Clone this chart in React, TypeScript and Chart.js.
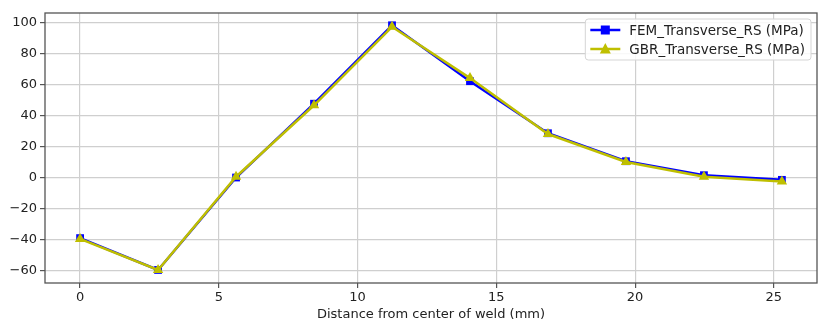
import React, { useEffect, useRef } from "react";
import { Chart, registerables } from "chart.js";

Chart.register(...registerables);

const distances = [0, 2.81, 5.62, 8.43, 11.24, 14.05, 16.86, 19.67, 22.48, 25.29];
const femValues = [-39, -59.5, 0, 47.5, 98, 62, 28.5, 10.5, 1.5, -1.5];
const gbrValues = [-39.5, -59.5, 0.5, 46.5, 97, 64, 28, 10, 0.5, -2.5];
const xTicks = [0, 5, 10, 15, 20, 25];
const yTicks = [-60, -40, -20, 0, 20, 40, 60, 80, 100];
const seriesNames = ["FEM_Transverse_RS (MPa)", "GBR_Transverse_RS (MPa)"];
const xTitle = "Distance from center of weld (mm)";

const FONT = "'DejaVu Sans', sans-serif";
const BLUE = "#0000ff";
const OLIVE = "#bfbf00";

const frameAndLegend = {
  id: "frameAndLegend",
  afterDraw(chart: any) {
    const { ctx, chartArea } = chart;
    ctx.save();
    ctx.strokeStyle = "#555";
    ctx.lineWidth = 1.3;
    ctx.strokeRect(chartArea.left, chartArea.top, chartArea.right - chartArea.left, chartArea.bottom - chartArea.top);

    // legend
    const fs = 13.5;
    ctx.font = `${fs}px ${FONT}`;
    const tw = Math.max(...seriesNames.map((s) => ctx.measureText(s).width));
    const right = chartArea.right - 6;
    const top = chartArea.top + 6;
    const h = 41;
    const w = tw + 50;
    const left = right - w;
    ctx.fillStyle = "rgba(255,255,255,0.85)";
    ctx.strokeStyle = "#d5d5d5";
    ctx.lineWidth = 1;
    const r = 3;
    ctx.beginPath();
    ctx.moveTo(left + r, top);
    ctx.lineTo(left + w - r, top);
    ctx.quadraticCurveTo(left + w, top, left + w, top + r);
    ctx.lineTo(left + w, top + h - r);
    ctx.quadraticCurveTo(left + w, top + h, left + w - r, top + h);
    ctx.lineTo(left + r, top + h);
    ctx.quadraticCurveTo(left, top + h, left, top + h - r);
    ctx.lineTo(left, top + r);
    ctx.quadraticCurveTo(left, top, left + r, top);
    ctx.closePath();
    ctx.fill();
    ctx.stroke();

    const colors = [BLUE, OLIVE];
    seriesNames.forEach((name, i) => {
      const cy = top + 11 + i * 19;
      const x0 = left + 5;
      const x1 = left + 35;
      const cx = (x0 + x1) / 2;
      ctx.strokeStyle = colors[i];
      ctx.lineWidth = 2.5;
      ctx.beginPath();
      ctx.moveTo(x0, cy);
      ctx.lineTo(x1, cy);
      ctx.stroke();
      ctx.fillStyle = colors[i];
      if (i === 0) {
        ctx.fillRect(cx - 4.5, cy - 4.5, 9, 9);
      } else {
        ctx.beginPath();
        ctx.moveTo(cx, cy - 6);
        ctx.lineTo(cx + 5.5, cy + 4.5);
        ctx.lineTo(cx - 5.5, cy + 4.5);
        ctx.closePath();
        ctx.fill();
      }
      ctx.fillStyle = "#222";
      ctx.textBaseline = "middle";
      ctx.textAlign = "left";
      ctx.fillText(name, left + 44, cy + 1);
    });
    ctx.restore();
  },
};

const fmt = (v: number | string) => String(v).replace("-", "\u2212");

export default function App() {
  const ref = useRef<HTMLCanvasElement>(null);
  useEffect(() => {
    if (!ref.current) return;
    const chart = new Chart(ref.current, {
      type: "line",
      data: {
        datasets: [
          {
            label: seriesNames[0],
            data: distances.map((x, i) => ({ x, y: femValues[i] })),
            borderColor: BLUE,
            backgroundColor: BLUE,
            borderWidth: 2.5,
            pointStyle: "rect",
            pointRadius: 5.5,
            pointBorderWidth: 0,
            order: 2,
          },
          {
            label: seriesNames[1],
            data: distances.map((x, i) => ({ x, y: gbrValues[i] })),
            borderColor: OLIVE,
            backgroundColor: OLIVE,
            borderWidth: 2.5,
            pointStyle: "triangle",
            pointRadius: 6,
            pointBorderWidth: 0,
            order: 1,
          },
        ],
      },
      options: {
        animation: false,
        responsive: false,
        layout: { autoPadding: false, padding: { top: 13, right: 2, left: 0, bottom: 0 } },
        plugins: { legend: { display: false }, tooltip: { enabled: false } },
        scales: {
          x: {
            type: "linear",
            min: -1.2645,
            max: 26.5545,
            afterBuildTicks: (s: any) => {
              s.ticks = xTicks.map((v) => ({ value: v }));
            },
            afterFit: (s: any) => {
              s.height = 44;
              s.paddingLeft = 0;
              s.paddingRight = 0;
            },
            ticks: {
              font: { family: FONT, size: 13 },
              color: "#222",
              padding: 2,
              maxRotation: 0,
              callback: (v: any) => fmt(v),
            },
            grid: { color: "#cfcfcf", lineWidth: 1.2, tickColor: "#555", tickLength: 5 },
            border: { display: false },
            title: {
              display: true,
              text: xTitle,
              font: { family: FONT, size: 13 },
              color: "#222",
              padding: { top: 0, bottom: 5 },
            },
          },
          y: {
            type: "linear",
            min: -67.9,
            max: 105.9,
            afterBuildTicks: (s: any) => {
              s.ticks = yTicks.map((v) => ({ value: v }));
            },
            afterFit: (s: any) => {
              s.width = 45;
              s.paddingTop = 0;
              s.paddingBottom = 0;
            },
            ticks: {
              font: { family: FONT, size: 13 },
              color: "#222",
              padding: 3,
              callback: (v: any) => fmt(v),
            },
            grid: { color: "#cfcfcf", lineWidth: 1.2, tickColor: "#555", tickLength: 5 },
            border: { display: false },
          },
        },
      },
      plugins: [frameAndLegend],
    } as any);
    return () => chart.destroy();
  }, []);
  return (
    <div style={{ position: "absolute", left: 0, top: 0, width: 819, height: 327, background: "#fff" }}>
      <canvas ref={ref} width={819} height={327} style={{ width: 819, height: 327 }} />
    </div>
  );
}
